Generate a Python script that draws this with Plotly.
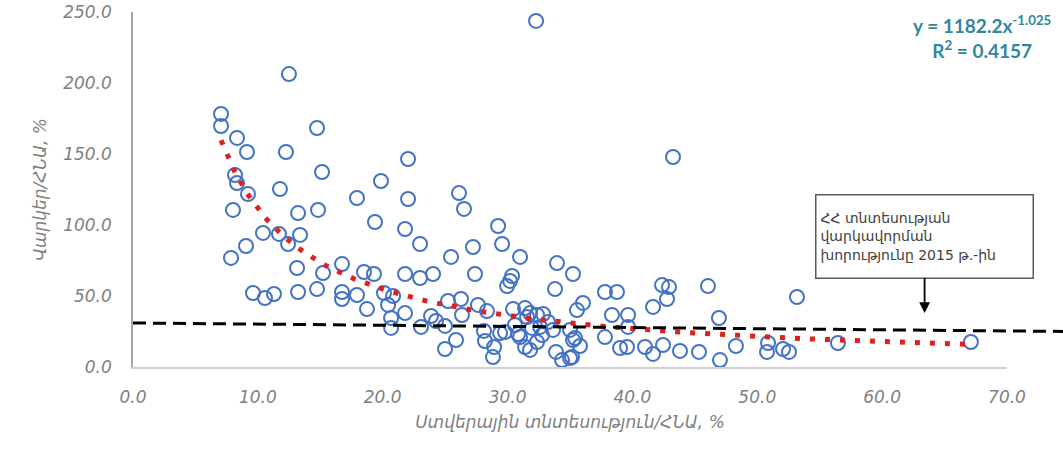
import numpy as np
import plotly.graph_objects as go

# Shadow economy / GDP, %
shadow_gdp = [
    7.05, 7.05, 8.33, 9.13, 12.25, 12.49, 14.74, 15.14, 8.17, 8.33,
    9.21, 11.77, 8.01, 13.22, 14.82, 10.41, 11.69, 13.38, 12.42, 9.05,
    7.85, 13.14, 15.22, 9.61, 10.57, 11.29, 13.22, 14.74, 16.74, 16.74,
    16.74, 17.94, 19.86, 19.38, 18.50, 19.30, 17.94, 18.74, 20.10, 20.83,
    20.43, 20.67, 20.67, 21.79, 22.03, 22.03, 22.99, 21.79, 22.99, 24.03,
    21.79, 23.07, 23.87, 24.27, 25.23, 26.27, 26.35, 24.99, 25.87, 24.99,
    26.11, 26.51, 25.47, 27.23, 27.39, 29.24, 29.56, 31.00, 30.36, 30.20,
    29.96, 27.63, 28.35, 28.11, 28.19, 28.92, 28.83, 29.40, 30.44, 30.59,
    30.84, 31.40, 31.80, 31.40, 31.80, 32.36, 32.84, 33.24, 33.64, 33.88,
    34.36, 35.00, 35.40, 35.56, 33.96, 33.80, 35.24, 36.04, 32.28, 37.80,
    38.76, 38.36, 39.65, 39.65, 37.80, 35.80, 35.16, 39.01, 39.57, 41.01,
    41.65, 42.45, 43.81, 45.33, 41.65, 42.37, 42.93, 42.77, 43.25, 46.05,
    46.93, 47.01, 48.29, 50.78, 50.86, 52.06, 52.54, 53.18, 56.46, 67.11,
    32.60, 31.96, 32.76, 31.00, 31.56, 32.36, 35.00, 35.24, 29.79,
]
# Credit / GDP, %
credit_gdp = [
    178.2, 169.7, 161.3, 151.4, 151.4, 206.3, 168.3, 137.3, 135.2, 129.6,
    121.8, 125.3, 110.6, 108.4, 110.6, 94.4, 93.7, 93.0, 86.6, 85.2,
    76.8, 69.7, 66.2, 52.1, 48.6, 51.4, 52.8, 54.9, 72.5, 52.8,
    47.9, 119.0, 131.0, 102.1, 66.9, 65.5, 50.7, 40.8, 52.1, 50.0,
    43.7, 34.5, 27.5, 97.2, 146.5, 118.3, 86.6, 65.5, 62.7, 65.5,
    38.0, 28.2, 35.9, 32.4, 46.5, 47.9, 36.6, 28.9, 19.0, 12.7,
    122.5, 111.3, 77.5, 84.5, 65.5, 99.3, 86.6, 77.5, 64.1, 60.6,
    57.0, 43.7, 39.4, 25.4, 18.3, 14.1, 7.0, 23.9, 40.8, 29.6,
    23.2, 41.5, 38.0, 14.1, 12.0, 17.6, 37.3, 31.7, 26.1, 10.6,
    4.9, 6.3, 20.4, 40.1, 73.2, 54.9, 65.5, 45.1, 243.7, 52.8,
    52.8, 36.6, 36.6, 28.2, 21.1, 14.8, 7.0, 13.4, 14.1, 14.1,
    9.2, 15.5, 11.3, 10.6, 42.3, 57.7, 56.3, 47.9, 147.9, 57.0,
    34.5, 4.9, 14.8, 10.6, 16.9, 12.7, 10.6, 49.3, 16.9, 17.6,
    28.2, 27.5, 22.5, 21.1, 35.2, 36.6, 26.1, 19.0, 24.6,
]

# Power trend line shown on the chart: y = a * x^b
trend_a = 1182.2
trend_b = -1.025
r_squared = 0.4157

# Credit depth of Armenian economy in 2015 (hand-drawn reference line)
depth_start = 31.0
depth_end = 25.0

x_ticks = [0, 10, 20, 30, 40, 50, 60, 70]
y_ticks = [0, 50, 100, 150, 200, 250]

x_title = "Ստվերային տնտեսություն/ՀՆԱ, %"
y_title = "Վարկեր/ՀՆԱ, %"
note_text = "ՀՀ տնտեսության<br>վարկավորման<br>խորությունը 2015 թ.-ին"

trend_x = np.linspace(min(shadow_gdp), max(shadow_gdp), 300)
trend_y = trend_a * trend_x ** trend_b

fig = go.Figure()
fig.add_trace(go.Scatter(
    x=shadow_gdp, y=credit_gdp, mode="markers",
    marker=dict(symbol="circle-open", size=14, color="#4472C4",
                line=dict(width=2, color="#4472C4")),
    showlegend=False, hoverinfo="x+y",
))
fig.add_trace(go.Scatter(
    x=trend_x, y=trend_y, mode="lines",
    line=dict(color="#E0201E", width=5, dash="5px,10px"),
    showlegend=False, hoverinfo="skip",
))

fig.add_shape(type="line", xref="paper", yref="y",
              x0=0, x1=1.07, y0=depth_start, y1=depth_end,
              line=dict(color="black", width=3, dash="13px,7px"))

fig.add_annotation(
    text=note_text, xref="x", yref="y", x=63.4, y=38,
    ax=0, ay=-77, showarrow=True, arrowhead=2, arrowsize=1.2,
    arrowwidth=1.8, arrowcolor="black",
    align="left", width=208, height=74, borderpad=4,
    bordercolor="#595959", borderwidth=1.5, bgcolor="white",
    font=dict(family="DejaVu Sans", size=14, color="#404040"),
)

fig.add_annotation(
    text=f"y = {trend_a}x<sup>{trend_b}</sup><br>R<sup>2</sup> = {r_squared}",
    xref="paper", yref="paper", x=0.971, y=0.93,
    xanchor="center", yanchor="middle", showarrow=False,
    font=dict(family="Lato", size=19, color="#31859C", weight="bold"),
)

tick_font = dict(family="DejaVu Sans", size=17, color="#7F7F7F", style="italic")
title_font = dict(family="DejaVu Sans", size=17, color="#7F7F7F", style="italic")

fig.update_xaxes(
    range=[0, 70], tickvals=x_ticks, tickformat=".1f",
    showgrid=False, zeroline=False, showline=True,
    linecolor="#D0D0D0", linewidth=2, ticks="",
    tickfont=tick_font, ticklabelstandoff=14, automargin=False,
    title=dict(text=x_title, font=title_font, standoff=10),
)
fig.update_yaxes(
    range=[0, 250], tickvals=y_ticks, tickformat=".1f",
    showgrid=False, zeroline=False, showline=True,
    linecolor="#A6A6A6", linewidth=1.5, ticks="",
    tickfont=tick_font, ticklabelstandoff=16, automargin=False,
    title=dict(text=y_title, font=title_font, standoff=12),
)

fig.update_layout(
    width=1063, height=450,
    margin=dict(l=133, r=56, t=12, b=83),
    plot_bgcolor="white", paper_bgcolor="white",
)

# remove the default page margin so the figure fills the window exactly
fig.write_html("out.html",
               config={"displayModeBar": False},
               post_script="document.body.style.margin='0';document.body.style.overflow='hidden';")
